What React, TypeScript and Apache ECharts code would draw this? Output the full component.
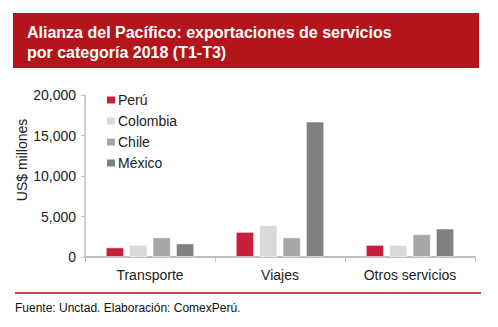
import React, { useEffect, useRef } from "react";
import * as echarts from "echarts";

const categories = ["Transporte", "Viajes", "Otros servicios"];
const seriesNames = ["Perú", "Colombia", "Chile", "México"];
const peru = [1190, 3100, 1500];
const colombia = [1500, 3930, 1480];
const chile = [2420, 2420, 2820];
const mexico = [1680, 16720, 3520];
const colors = ["#C8203A", "#D9D9D9", "#A6A6A6", "#808080"];
const titleLines = ["Alianza del Pacífico: exportaciones de servicios", "por categoría 2018 (T1-T3)"];
const yAxisName = "US$ millones";
const sourceText = "Fuente: Unctad. Elaboración: ComexPerú.";

export default function App() {
  const ref = useRef<HTMLDivElement>(null);
  useEffect(() => {
    const chart = echarts.init(ref.current!, undefined, { renderer: "svg" });
    const values = [peru, colombia, chile, mexico];
    const font = "Liberation Sans, Arial, sans-serif";
    chart.setOption({
      animation: false,
      textStyle: { fontFamily: font },
      grid: { left: 85, right: 23, top: 95, bottom: 70, containLabel: false },
      legend: {
        orient: "vertical",
        left: 102,
        top: 88,
        itemWidth: 8,
        itemHeight: 7,
        itemGap: 7,
        itemStyle: { borderWidth: 0 },
        icon: "rect",
        textStyle: { fontSize: 14, color: "#222", fontFamily: font, padding: [0, 0, 0, -2] },
        data: seriesNames,
      },
      xAxis: {
        type: "category",
        data: categories,
        axisLine: { lineStyle: { color: "#BFBFBF", width: 2 } },
        axisTick: { show: true, length: 5, lineStyle: { color: "#BFBFBF", width: 1 } },
        axisLabel: { fontSize: 14, color: "#222", margin: 11 },
      },
      yAxis: {
        type: "value",
        min: 0,
        max: 20000,
        interval: 5000,
        axisLine: { show: true, lineStyle: { color: "#BFBFBF", width: 1.5 } },
        axisTick: { show: true, length: 4, lineStyle: { color: "#BFBFBF" } },
        splitLine: { show: false },
        axisLabel: {
          fontSize: 14,
          color: "#222",
          margin: 9,
          formatter: (v: number) => v.toLocaleString("en-US"),
        },
      },
      series: seriesNames.map((name, i) => ({
        name,
        type: "bar",
        data: values[i],
        barGap: "28%",
        barCategoryGap: "32%",
        itemStyle: { color: colors[i], borderColor: "rgba(255,255,255,0.5)", borderWidth: 1 },
      })),
      graphic: [
        {
          type: "rect",
          shape: { x: 13, y: 13, width: 466, height: 55 },
          style: { fill: "#B3151A" },
        },
        {
          type: "text",
          x: 27,
          y: 24,
          style: { text: titleLines[0], fill: "#fff", font: `bold 16px ${font}` },
        },
        {
          type: "text",
          x: 27,
          y: 44,
          style: { text: titleLines[1], fill: "#fff", font: `bold 16px ${font}` },
        },
        {
          type: "text",
          x: 22,
          y: 160,
          rotation: Math.PI / 2,
          style: {
            text: yAxisName,
            fill: "#222",
            font: `14px ${font}`,
            align: "center",
            verticalAlign: "middle",
          },
        },
        {
          type: "line",
          shape: { x1: 15, y1: 293, x2: 481, y2: 293 },
          style: { stroke: "#D2404F", lineWidth: 2 },
        },
        {
          type: "text",
          x: 15,
          y: 302,
          style: { text: sourceText, fill: "#111", font: `12px ${font}` },
        },
      ],
    });
    return () => chart.dispose();
  }, []);
  return <div ref={ref} style={{ width: 498, height: 327, position: "absolute", left: 0, top: 0 }} />;
}
